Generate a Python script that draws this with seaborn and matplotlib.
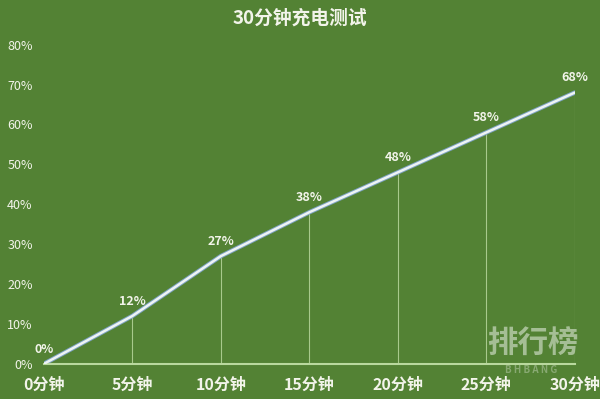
import matplotlib
matplotlib.use('Agg')

import pandas as pd
import matplotlib.pyplot as plt
import seaborn as sns

# DATA
minutes = [0, 5, 10, 15, 20, 25, 30]
x_labels = ['0分钟', '5分钟', '10分钟', '15分钟', '20分钟', '25分钟', '30分钟']
charge = [0, 12, 27, 38, 48, 58, 68]
y_ticks = [0, 10, 20, 30, 40, 50, 60, 70, 80]

BG = '#538234'
TXT = '#f2f4ea'

sns.set_style('white')
plt.rcParams['font.family'] = ['Noto Sans CJK SC', 'DejaVu Sans']

df = pd.DataFrame({'minute': minutes, 'charge': charge})

fig = plt.figure(figsize=(6, 3.99), dpi=100, facecolor=BG)
ax = fig.add_axes([0.073, 0.088, 0.885, 0.80])
ax.set_facecolor(BG)

# drop lines from each point down to the axis
ax.vlines(df['minute'][1:], 0, df['charge'][1:], color='#a8c98c', lw=0.8, zorder=1)

# shadow then main line
sns.lineplot(data=df, x='minute', y='charge', ax=ax, color='#7fa3c4', lw=3.2, zorder=2)
sns.lineplot(data=df, x='minute', y='charge', ax=ax, color='#eef4f4', lw=1.8, zorder=3)

# value labels above each point
for m, c in zip(minutes, charge):
    ax.annotate(f'{c}%', (m, c), xytext=(0, 6), textcoords='offset points',
                ha='center', va='bottom', fontsize=9, fontweight='bold', color=TXT)

ax.set_xlim(0, 30)
ax.set_ylim(0, 80)
ax.set_xticks(minutes)
ax.set_xticklabels(x_labels, fontsize=11.5, fontweight='bold', color=TXT)
ax.set_yticks(y_ticks)
ax.set_yticklabels([f'{v}%' for v in y_ticks], fontsize=9, color=TXT)
ax.tick_params(axis='both', length=0)
ax.tick_params(axis='y', pad=8)
ax.tick_params(axis='x', pad=9)
ax.set_xlabel('')
ax.set_ylabel('')

for s in ['top', 'right', 'left']:
    ax.spines[s].set_visible(False)
ax.spines['bottom'].set_color('#b9d99e')
ax.spines['bottom'].set_linewidth(1.5)
ax.spines['bottom'].set_clip_on(False)

fig.text(0.5, 0.955, '30分钟充电测试', ha='center', va='center', fontsize=13.5,
         fontweight='bold', color=TXT)

# watermark
fig.text(0.888, 0.138, '排行榜', ha='center', va='center', fontsize=22,
         fontweight='bold', color='#c9d9bf', alpha=0.7)
fig.text(0.885, 0.072, 'B H B A N G', ha='center', va='center', fontsize=7,
         fontweight='bold', style='italic', color='#c9d9bf', alpha=0.45)

fig.savefig('out.png', dpi=100, facecolor=BG)
